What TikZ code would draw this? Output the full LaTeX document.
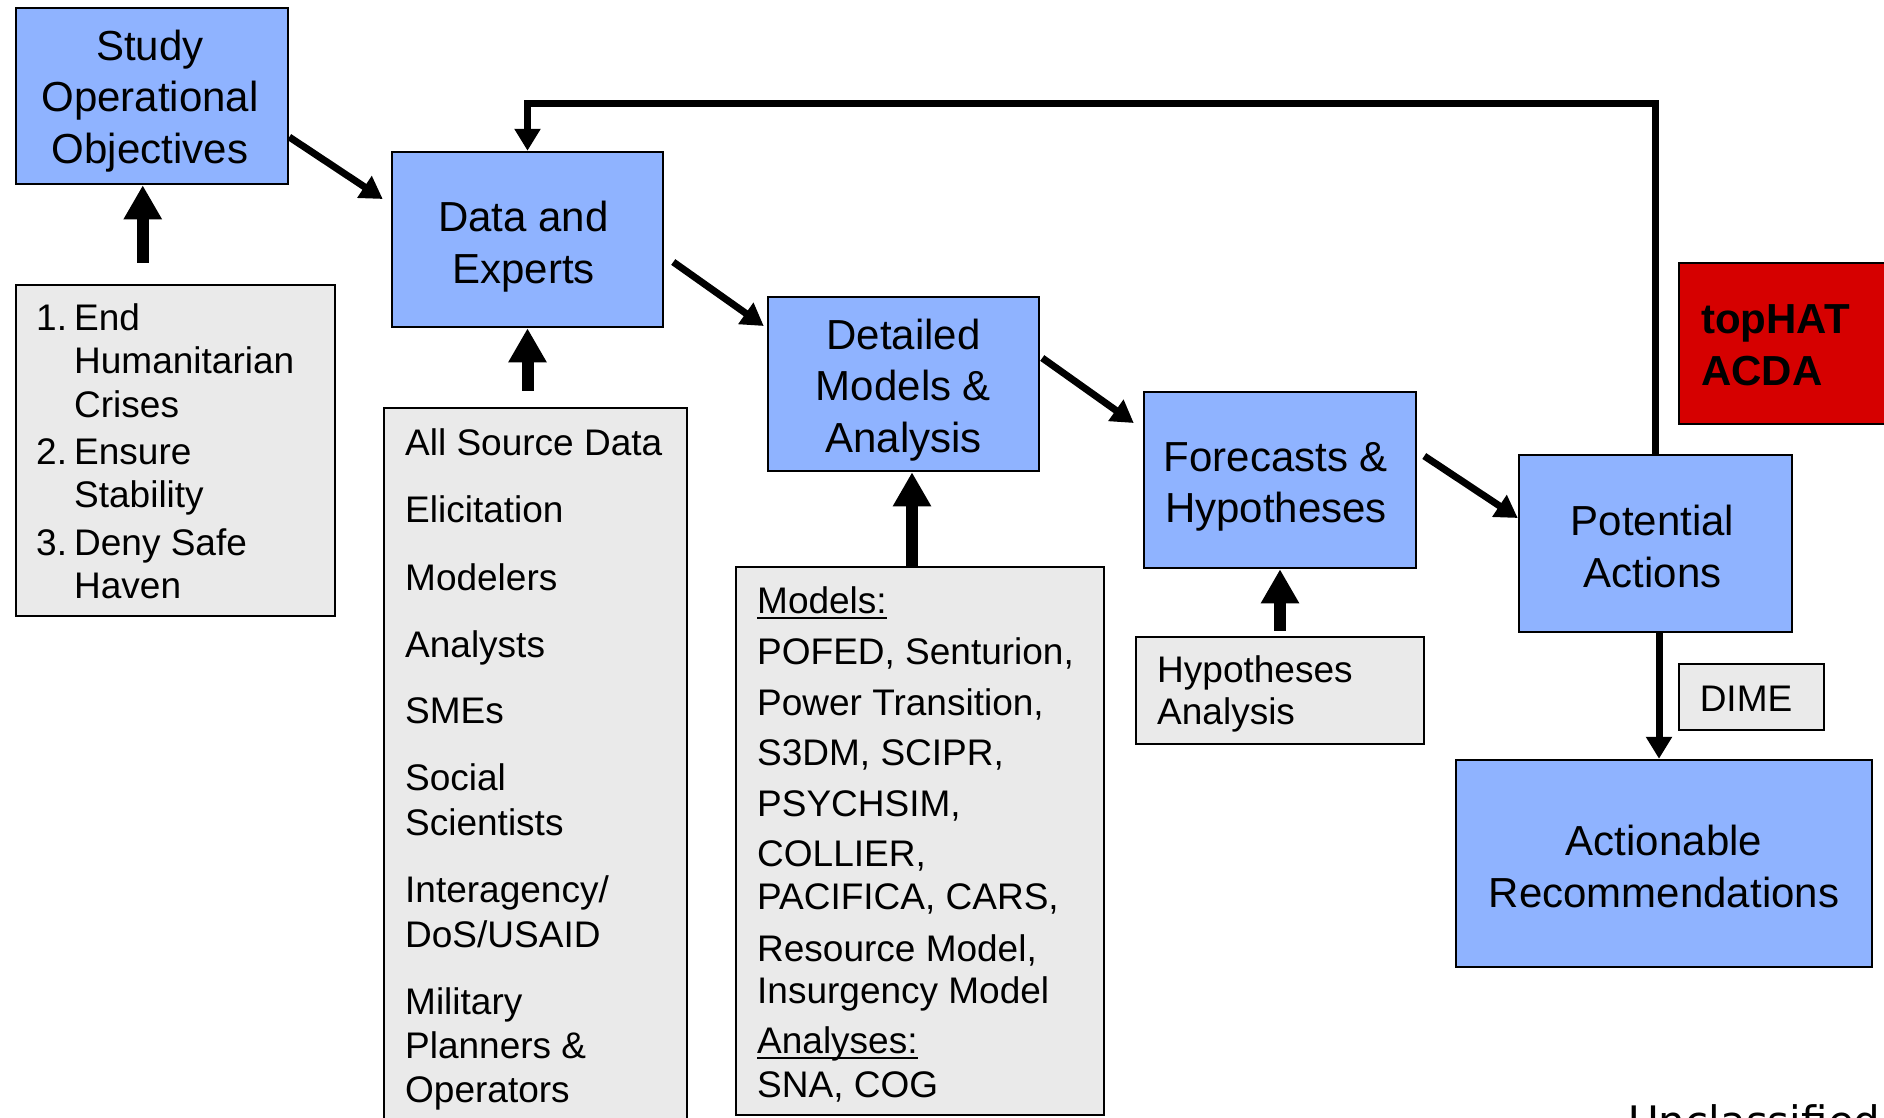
\documentclass[tikz,border=0pt]{standalone}
\usepackage{fontspec}
\setmainfont{Liberation Sans}
\newfontfamily\dejavu{DejaVu Sans}
\usetikzlibrary{arrows.meta,calc}
\definecolor{boxblue}{RGB}{143,179,255}
\definecolor{boxgray}{RGB}{234,234,234}
\definecolor{hatred}{RGB}{214,0,0}
\begin{document}
\begin{tikzpicture}[x=1pt,y=-1pt,
  bluebox/.style={draw=black,line width=2.5pt,fill=boxblue,inner sep=0pt},
  bluetext/.style={inner sep=0pt,align=center,font=\fontsize{42}{51.5}\selectfont},
  graybox/.style={draw=black,line width=2.5pt,fill=boxgray,inner sep=0pt},
  listtext/.style={inner sep=0pt,anchor=base west,font=\fontsize{37}{44}\selectfont},
  flow/.style={line width=7pt,-{Triangle[width=25pt,length=22pt]}},
  block/.style={line width=12pt,-{Triangle[width=36pt,length=34pt]}},
  ulstyle/.style={line width=2.5pt},
]
\useasboundingbox (0,0) rectangle (1884,1117);
\fill[white] (0,0) rectangle (1884,1117);

% blue process boxes
\node[bluebox,minimum width=272pt,minimum height=176pt] (study) at (152,96) {};
\node[bluebox,minimum width=271pt,minimum height=175pt] (data) at (527.5,239.5) {};
\node[bluebox,minimum width=271pt,minimum height=174pt] (detailed) at (903.5,384) {};
\node[bluebox,minimum width=272pt,minimum height=176pt] (forecast) at (1280,480) {};
\node[bluebox,minimum width=273pt,minimum height=177pt] (potential) at (1655.5,543.5) {};
\node[bluebox,minimum width=416pt,minimum height=207pt] (action) at (1664,863.5) {};
\node[bluetext] (studyt) at ($(study)+(-2,5)$) {Study\\Operational\\Objectives};
\node[bluetext] (datat) at ($(data)+(-4,7)$) {Data and\\Experts};
\node[bluetext] (detailedt) at ($(detailed)+(0,6)$) {Detailed\\Models \&\\Analysis};
\node[bluetext] (forecastt) at ($(forecast)+(-4,7)$) {Forecasts \&\\Hypotheses};
\node[bluetext] (potentialt) at ($(potential)+(-3,3)$) {Potential\\Actions};
\node[bluetext] (actiont) at ($(action)+(0,3)$) {Actionable\\Recommendations};

% red box
\node[draw=black,line width=2.5pt,fill=hatred,inner sep=0pt,minimum width=216pt,minimum height=161pt] (tophat) at (1787,343.5) {};
\node[inner sep=0pt,anchor=base west,font=\fontsize{42}{52}\selectfont\bfseries] (th1) at (1701,333) {topHAT};
\node[inner sep=0pt,anchor=base west,font=\fontsize{42}{52}\selectfont\bfseries] (th2) at (1701,385) {ACDA};

% gray boxes
\node[graybox,minimum width=319pt,minimum height=331pt] (objlist) at (175.5,450.5) {};
\node[graybox,minimum width=303pt,minimum height=722pt] (datalist) at (535.5,769) {};
\node[graybox,minimum width=368pt,minimum height=548pt] (modlist) at (920,841) {};
\node[graybox,minimum width=288pt,minimum height=107pt] (hyplist) at (1280,690.5) {};
\node[graybox,minimum width=145pt,minimum height=66pt] (dime) at (1751.5,697) {};

% objectives list
\node[listtext] (o1n) at (36,330) {1.};
\node[listtext] (o1a) at (74,330) {End};
\node[listtext] (o1b) at (74,373) {Humanitarian};
\node[listtext] (o1c) at (74,417) {Crises};
\node[listtext] (o2n) at (36,464) {2.};
\node[listtext] (o2a) at (74,464) {Ensure};
\node[listtext] (o2b) at (74,507) {Stability};
\node[listtext] (o3n) at (36,555) {3.};
\node[listtext] (o3a) at (74,555) {Deny Safe};
\node[listtext] (o3b) at (74,598) {Haven};

% data list
\node[listtext] (d1) at (405,455) {All Source Data};
\node[listtext] (d2) at (405,522) {Elicitation};
\node[listtext] (d3) at (405,590) {Modelers};
\node[listtext] (d4) at (405,657) {Analysts};
\node[listtext] (d5) at (405,723) {SMEs};
\node[listtext] (d6) at (405,790) {Social};
\node[listtext] (d7) at (405,835) {Scientists};
\node[listtext] (d8) at (405,902) {Interagency/};
\node[listtext] (d9) at (405,947) {DoS/USAID};
\node[listtext] (d10) at (405,1014) {Military};
\node[listtext] (d11) at (405,1058) {Planners \&};
\node[listtext] (d12) at (405,1102) {Operators};

% models list
\node[listtext] (m1) at (757,613) {Models:};
\node[listtext] (m2) at (757,664) {POFED, Senturion,};
\node[listtext] (m3) at (757,715) {Power Transition,};
\node[listtext] (m4) at (757,765) {S3DM, SCIPR,};
\node[listtext] (m5) at (757,816) {PSYCHSIM,};
\node[listtext] (m6) at (757,866) {COLLIER,};
\node[listtext] (m7) at (757,909) {PACIFICA, CARS,};
\node[listtext] (m8) at (757,961) {Resource Model,};
\node[listtext] (m9) at (757,1003) {Insurgency Model};
\node[listtext] (m10) at (757,1053) {Analyses:};
\node[listtext] (m11) at (757,1097) {SNA, COG};
\draw[ulstyle] ($(m1.base west)+(0,5)$) -- ($(m1.base east)+(0,5)$);
\draw[ulstyle] ($(m10.base west)+(0,5)$) -- ($(m10.base east)+(0,5)$);

% hypotheses list
\node[listtext] (h1) at (1157,682) {Hypotheses};
\node[listtext] (h2) at (1157,724) {Analysis};

% DIME
\node[inner sep=0pt,anchor=base,font=\fontsize{37}{44}\selectfont] (dimet) at (1746,711) {DIME};

% footer
\node[inner sep=0pt,anchor=base west,font=\dejavu\fontsize{42}{50}\selectfont] (uncl) at (1628,1136) {Unclassified};

% flow arrows
\draw[flow] ($(study.east)+(0,41)$) -- ($(data.west)+(-8,-40.5)$);
\draw[flow] ($(data.east)+(9,22.5)$) -- ($(detailed.west)+(-3,-58)$);
\draw[flow] ($(detailed.east)+(2,-26)$) -- ($(forecast.west)+(-9,-57)$);
\draw[flow] ($(forecast.east)+(7,-24)$) -- ($(potential.west)+(0,-25.5)$);
\draw[flow] ($(potential.south)+(3.5,0)$) -- ($(action.north)+(-5,0)$);
\draw[line width=7.5pt,line join=miter,-{Triangle[width=25pt,length=22pt]}] (potential.north) -- ($(potential.north)+(0,-350.5)$) -| (data.north);

% block arrows from inputs
\draw[block] ($(objlist.north west)+(128,-21)$) -- ($(study.south west)+(128,0)$);
\draw[block] ($(datalist.north -| data.south)+(0,-16)$) -- (data.south);
\draw[block] ($(modlist.north -| detailed.south)+(8.5,0)$) -- ($(detailed.south)+(8.5,0)$);
\draw[block] ($(hyplist.north)+(0,-5)$) -- (forecast.south);
\end{tikzpicture}
\end{document}
